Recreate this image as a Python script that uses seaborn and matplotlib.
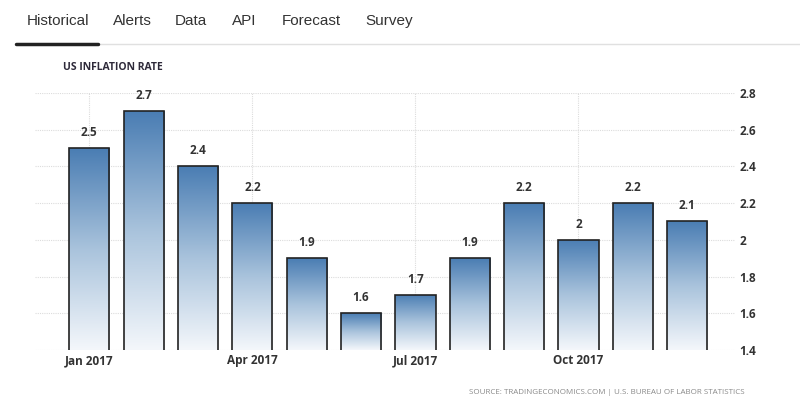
import numpy as np
import pandas as pd
import matplotlib
matplotlib.use('Agg')
import matplotlib.pyplot as plt
import seaborn as sns
from matplotlib.colors import LinearSegmentedColormap

# Данные
months = ['Jan', 'Feb', 'Mar', 'Apr', 'May', 'Jun', 'Jul', 'Aug', 'Sep', 'Oct', 'Nov', 'Dec']
rates = [2.5, 2.7, 2.4, 2.2, 1.9, 1.6, 1.7, 1.9, 2.2, 2.0, 2.2, 2.1]
value_labels = ['2.5', '2.7', '2.4', '2.2', '1.9', '1.6', '1.7', '1.9', '2.2', '2', '2.2', '2.1']
tick_months = ['Jan', 'Apr', 'Jul', 'Oct']
tick_labels = ['Jan 2017', 'Apr 2017', 'Jul 2017', 'Oct 2017']
y_ticks = [1.4, 1.6, 1.8, 2.0, 2.2, 2.4, 2.6, 2.8]
y_tick_labels = ['1.4', '1.6', '1.8', '2', '2.2', '2.4', '2.6', '2.8']
tabs = ['Historical', 'Alerts', 'Data', 'API', 'Forecast', 'Survey']

df = pd.DataFrame({'month': months, 'rate': rates})

sns.set_style('white')
plt.rcParams['font.family'] = ['Open Sans', 'DejaVu Sans']

fig = plt.figure(figsize=(8, 3.97), dpi=100)
ax = fig.add_axes([35 / 800, 47 / 397, 700 / 800, 257 / 397])

sns.barplot(x='month', y='rate', data=df, ax=ax, width=0.74,
            color='white', edgecolor='#222222', linewidth=1.2, zorder=3)

# Градиентная заливка столбцов
cmap = LinearSegmentedColormap.from_list('grad', ['#f4f7fb', '#a9c3dc', '#4a7db3'])
grad = np.linspace(0, 1, 256).reshape(-1, 1)
for bar in ax.patches:
    bar.set_facecolor('none')
    x0, w, h = bar.get_x(), bar.get_width(), bar.get_height()
    im = ax.imshow(grad, cmap=cmap, aspect='auto', origin='lower',
                   extent=[x0, x0 + w, 1.4, h], zorder=2)
    im.set_clip_path(bar)

ax.set_xlim(-1.0, 11.88)
ax.set_ylim(1.4, 2.8)

# Подписи значений
for i, (v, lab) in enumerate(zip(rates, value_labels)):
    ax.text(i, v + 0.05, lab, ha='center', va='bottom', fontsize=8.5,
            fontweight='bold', color='#333333', zorder=4)

# Оси и сетка
ax.yaxis.tick_right()
ax.set_yticks(y_ticks)
ax.set_yticklabels(y_tick_labels, fontsize=8.5, color='#333333', fontweight='bold')
ax.tick_params(axis='y', length=0, pad=3)
tick_pos = [months.index(m) for m in tick_months]
ax.set_xticks(tick_pos)
ax.set_xticklabels(tick_labels, fontsize=8.5, color='#333333', fontweight='bold')
ax.tick_params(axis='x', length=3, color='#cccccc', pad=0)
ax.grid(True, axis='both', linestyle=(0, (1, 1)), color='#dcdcdc', linewidth=0.8, zorder=0)
ax.set_axisbelow(True)
ax.set_xlabel('')
ax.set_ylabel('')
for s in ax.spines.values():
    s.set_visible(False)

# Вкладки сверху
tab_x = [27, 113, 175, 232, 282, 365]
for t, x in zip(tabs, tab_x):
    fig.text(x / 800, 1 - 21 / 397, t, fontsize=11, color='#333333',
             ha='left', va='center', family=['Liberation Sans', 'DejaVu Sans'])
fig.add_artist(plt.Line2D([98 / 800, 1], [1 - 44 / 397] * 2, color='#e0e0e0', linewidth=1))
fig.add_artist(plt.Line2D([16 / 800, 98 / 800], [1 - 44 / 397] * 2, color='#222222', linewidth=2.5))

fig.text(63 / 800, 1 - 68 / 397, 'US INFLATION RATE', fontsize=7.5, fontweight='bold',
         color='#2e2a3a', ha='left', va='center')
fig.text(745 / 800, 1 - 392 / 397, 'SOURCE: TRADINGECONOMICS.COM | U.S. BUREAU OF LABOR STATISTICS',
         fontsize=5.8, color='#8a8a8a', ha='right', va='center')

plt.savefig('out.png', dpi=100)
